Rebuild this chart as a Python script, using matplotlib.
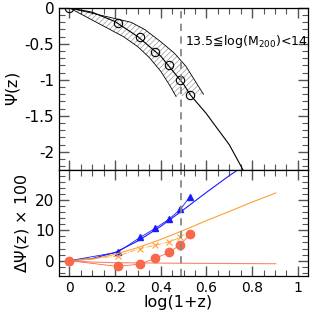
import matplotlib
matplotlib.use("Agg")
import matplotlib.pyplot as plt
from matplotlib.ticker import MultipleLocator, FuncFormatter

# --- data ---
# top panel: Psi(z)
model_x = [0.0, 0.1, 0.2, 0.3, 0.4, 0.5, 0.53, 0.6, 0.63, 0.7, 0.76]
model_y = [0.0, -0.06, -0.19, -0.40, -0.67, -1.06, -1.21, -1.47, -1.60, -1.90, -2.25]
obs_x = [0.0, 0.212, 0.310, 0.377, 0.438, 0.486, 0.528]
obs_y = [0.0, -0.21, -0.41, -0.61, -0.80, -1.00, -1.21]
band_up_x = [0.0, 0.27, 0.33, 0.40, 0.46, 0.51, 0.587]
band_up_y = [0.0, -0.20, -0.30, -0.47, -0.63, -0.81, -1.20]
band_lo_x = [0.0, 0.237, 0.30, 0.35, 0.40, 0.44, 0.467]
band_lo_y = [0.0, -0.40, -0.54, -0.69, -0.88, -1.08, -1.23]
z_mark = 0.489
label = "13.5\u2266log(M$_{200}$)<14"

# bottom panel: Delta Psi(z) x 100
blue_x = [0.0, 0.1, 0.2, 0.3, 0.4, 0.5, 0.6, 0.7, 0.76]
blue_y = [0.0, 0.7, 2.7, 6.5, 11.3, 16.8, 22.5, 28.0, 31.0]
blue_pts_y = [0.0, 2.8, 7.7, 10.7, 13.8, 16.9, 21.1]
orange_x = [0.0, 0.1, 0.2, 0.3, 0.4, 0.5, 0.6, 0.7, 0.8, 0.904]
orange_y = [0.0, 0.5, 2.1, 4.3, 7.0, 10.0, 13.2, 16.2, 19.3, 22.3]
orange_pts_x = [0.0, 0.212, 0.310, 0.377, 0.438, 0.486]
orange_pts_y = [0.0, 1.5, 4.0, 5.1, 6.2, 7.7]
red_x = [0.0, 0.1, 0.2, 0.4, 0.6, 0.904]
red_y = [0.0, -0.45, -0.65, -0.8, -0.9, -1.0]
red_pts_y = [0.0, -1.9, -1.1, 0.8, 2.8, 5.3, 8.7]

BLUE = "#1a1aff"
ORANGE = "#ffa033"
RED = "#f8694a"
plt.rcParams["hatch.linewidth"] = 0.5
plt.rcParams["mathtext.fontset"] = "dejavusans"

fig = plt.figure(figsize=(3.16, 3.16), dpi=100)
gs = fig.add_gridspec(2, 1, height_ratios=[162, 106], hspace=0,
                      left=0.187, right=0.975, top=0.975, bottom=0.127)
ax1 = fig.add_subplot(gs[0])
ax2 = fig.add_subplot(gs[1], sharex=ax1)

# top panel
band_x = band_up_x + band_lo_x[::-1]
band_y = band_up_y + band_lo_y[::-1]
ax1.fill(band_x, band_y, facecolor="none", edgecolor="#999999", hatch="//////", linewidth=0)
ax1.plot(band_up_x, band_up_y, color="black", lw=0.6)
ax1.plot(band_lo_x, band_lo_y, color="black", lw=0.6)
ax1.plot(model_x, model_y, color="black", lw=0.8)
ax1.plot(obs_x, obs_y, "o", mfc="none", mec="black", ms=6, mew=0.8)
ax1.axvline(z_mark, color="#888888", ls="--", lw=1.3, dashes=(4, 3))
ax1.text(0.507, -0.47, label, fontsize=9, ha="left", va="center")
ax1.set_ylim(-2.25, 0)
ax1.set_ylabel(r"$\Psi$(z)", fontsize=11.5, labelpad=2)
ax1.yaxis.set_major_locator(MultipleLocator(0.5))
ax1.yaxis.set_minor_locator(MultipleLocator(0.1))
ax1.tick_params(labelbottom=False)

# bottom panel
ax2.plot(blue_x, blue_y, color=BLUE, lw=0.8)
ax2.plot(obs_x, blue_pts_y, "^-", color=BLUE, lw=0.6, ms=5)
ax2.plot(orange_x, orange_y, color=ORANGE, lw=0.8)
ax2.plot(orange_pts_x, orange_pts_y, "x-.", color=ORANGE, lw=0.6, ms=5, mew=0.8)
ax2.plot(red_x, red_y, color=RED, lw=0.8, alpha=0.8)
ax2.plot(obs_x, red_pts_y, "o-", color=RED, lw=0.6, ms=6)
ax2.axvline(z_mark, color="#888888", ls="--", lw=1.3, dashes=(4, 3))
ax2.set_ylim(-5, 29.9)
ax2.set_xlim(-0.045, 1.045)
ax2.set_ylabel(r"$\Delta\Psi$(z) $\times$ 100", fontsize=11.5, labelpad=3)
ax2.set_xlabel("log(1+z)", fontsize=11.5)
ax2.xaxis.set_label_coords(0.476, -0.18)
ax2.yaxis.set_major_locator(MultipleLocator(10))
ax2.yaxis.set_minor_locator(MultipleLocator(2))
ax2.xaxis.set_major_locator(MultipleLocator(0.2))
ax2.xaxis.set_minor_locator(MultipleLocator(0.05))

fmt = FuncFormatter(lambda v, p: "%g" % round(v, 2))
for ax in (ax1, ax2):
    ax.xaxis.set_major_formatter(fmt)
    ax.yaxis.set_major_formatter(fmt)
    ax.tick_params(which="both", direction="in", top=True, right=True,
                   labelsize=11, colors="#555555", labelcolor="black")
    ax.tick_params(which="major", length=7, width=1)
    ax.tick_params(which="minor", length=4, width=0.8)
    ax.tick_params(axis="x", pad=4, labelsize=10)
    for s in ax.spines.values():
        s.set_linewidth(0.9)

fig.savefig("out.png", dpi=100)
